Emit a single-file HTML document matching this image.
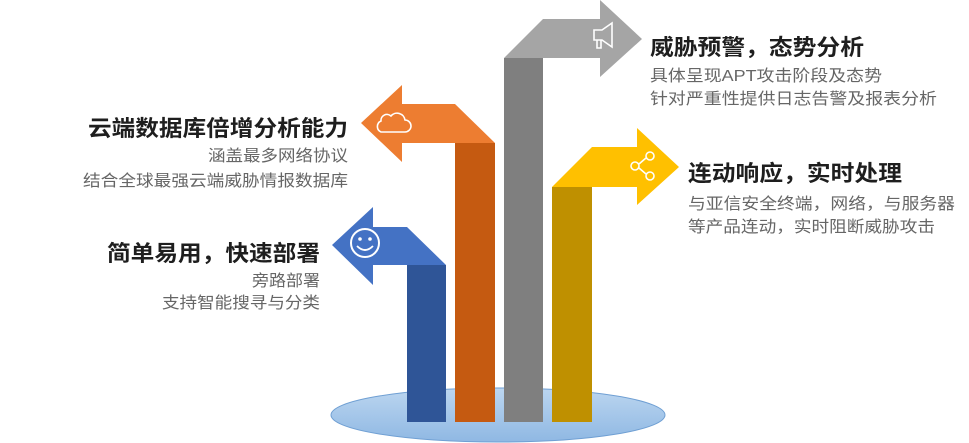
<!DOCTYPE html>
<html><head><meta charset="utf-8"><style>
html,body{margin:0;padding:0;background:#fff;}
svg{display:block;}
.t{font-family:"Liberation Sans","Noto Sans CJK SC",sans-serif;font-weight:bold;font-size:22px;fill:#1e1e1e;}
.s{font-family:"Liberation Sans","Noto Sans CJK SC",sans-serif;font-size:16px;fill:#666;}
</style></head><body>
<svg width="969" height="443" viewBox="0 0 969 443">
<defs><linearGradient id="g" x1="0" y1="0" x2="0" y2="1"><stop offset="0" stop-color="#bcd6f0"/><stop offset="1" stop-color="#8fb8e3"/></linearGradient></defs>
<ellipse cx="498" cy="415" rx="167" ry="27" fill="url(#g)" stroke="#6f9fd3" stroke-width="1"/>
<!-- blue -->
<polygon points="332,245 373,207 373,227 407,227 446,265 373,265 373,285" fill="#4472c4"/>
<rect x="407" y="265" width="39" height="157" fill="#2f5597"/>
<circle cx="365" cy="243" r="14" fill="none" stroke="#fff" stroke-width="2"/>
<circle cx="360" cy="239" r="1.8" fill="#fff"/><circle cx="370" cy="239" r="1.8" fill="#fff"/>
<path d="M357,246 Q365,254 373,246" fill="none" stroke="#fff" stroke-width="1.8"/>
<!-- orange -->
<polygon points="361,123 402,85 402,104 455,104 495,143 402,143 402,162" fill="#ed7d31"/>
<rect x="455" y="143" width="40" height="279" fill="#c55a11"/>
<path d="M381,132 h24 a6,6 0 0 0 0,-12 a8,8 0 0 0 -14,-4 a6,6 0 0 0 -10,5 a6,6 0 0 0 0,11 z" fill="none" stroke="#fff" stroke-width="1.6"/>
<!-- gray -->
<polygon points="642,39 600,0 600,19 543,19 504,58 600,58 600,77" fill="#a5a5a5"/>
<rect x="504" y="58" width="39" height="364" fill="#7f7f7f"/>
<path d="M594,30 h8 l10,-7 v24 l-10,-7 h-8 z M597,40 v8 h4 v-8" fill="none" stroke="#fff" stroke-width="1.6"/>
<!-- yellow -->
<polygon points="679,167 637,128 637,147 592,147 552,187 637,187 637,205" fill="#ffc000"/>
<rect x="552" y="187" width="40" height="235" fill="#bf9000"/>
<g fill="none" stroke="#fff" stroke-width="1.6"><circle cx="650" cy="156" r="4"/><circle cx="635" cy="166" r="4"/><circle cx="650" cy="176" r="4"/><path d="M639,164 L646,158 M639,168 L646,174"/></g>
<!-- text -->
<text class="t" x="650" y="55" textLength="214" lengthAdjust="spacingAndGlyphs">威胁预警，态势分析</text>
<text class="s" x="650" y="81" textLength="232" lengthAdjust="spacingAndGlyphs">具体呈现APT攻击阶段及态势</text>
<text class="s" x="650" y="104" textLength="287" lengthAdjust="spacingAndGlyphs">针对严重性提供日志告警及报表分析</text>
<text class="t" x="688" y="181" textLength="214" lengthAdjust="spacingAndGlyphs">连动响应，实时处理</text>
<text class="s" x="688" y="209" textLength="267" lengthAdjust="spacingAndGlyphs">与亚信安全终端，网络，与服务器</text>
<text class="s" x="688" y="232" textLength="247" lengthAdjust="spacingAndGlyphs">等产品连动，实时阻断威胁攻击</text>
<text class="t" x="88" y="136" textLength="260" lengthAdjust="spacingAndGlyphs">云端数据库倍增分析能力</text>
<text class="s" x="208" y="161" textLength="140" lengthAdjust="spacingAndGlyphs">涵盖最多网络协议</text>
<text class="s" x="83" y="186" textLength="265" lengthAdjust="spacingAndGlyphs">结合全球最强云端威胁情报数据库</text>
<text class="t" x="107" y="261" textLength="213" lengthAdjust="spacingAndGlyphs">简单易用，快速部署</text>
<text class="s" x="252" y="286" textLength="68" lengthAdjust="spacingAndGlyphs">旁路部署</text>
<text class="s" x="162" y="308" textLength="158" lengthAdjust="spacingAndGlyphs">支持智能搜寻与分类</text>
</svg>
</body></html>
